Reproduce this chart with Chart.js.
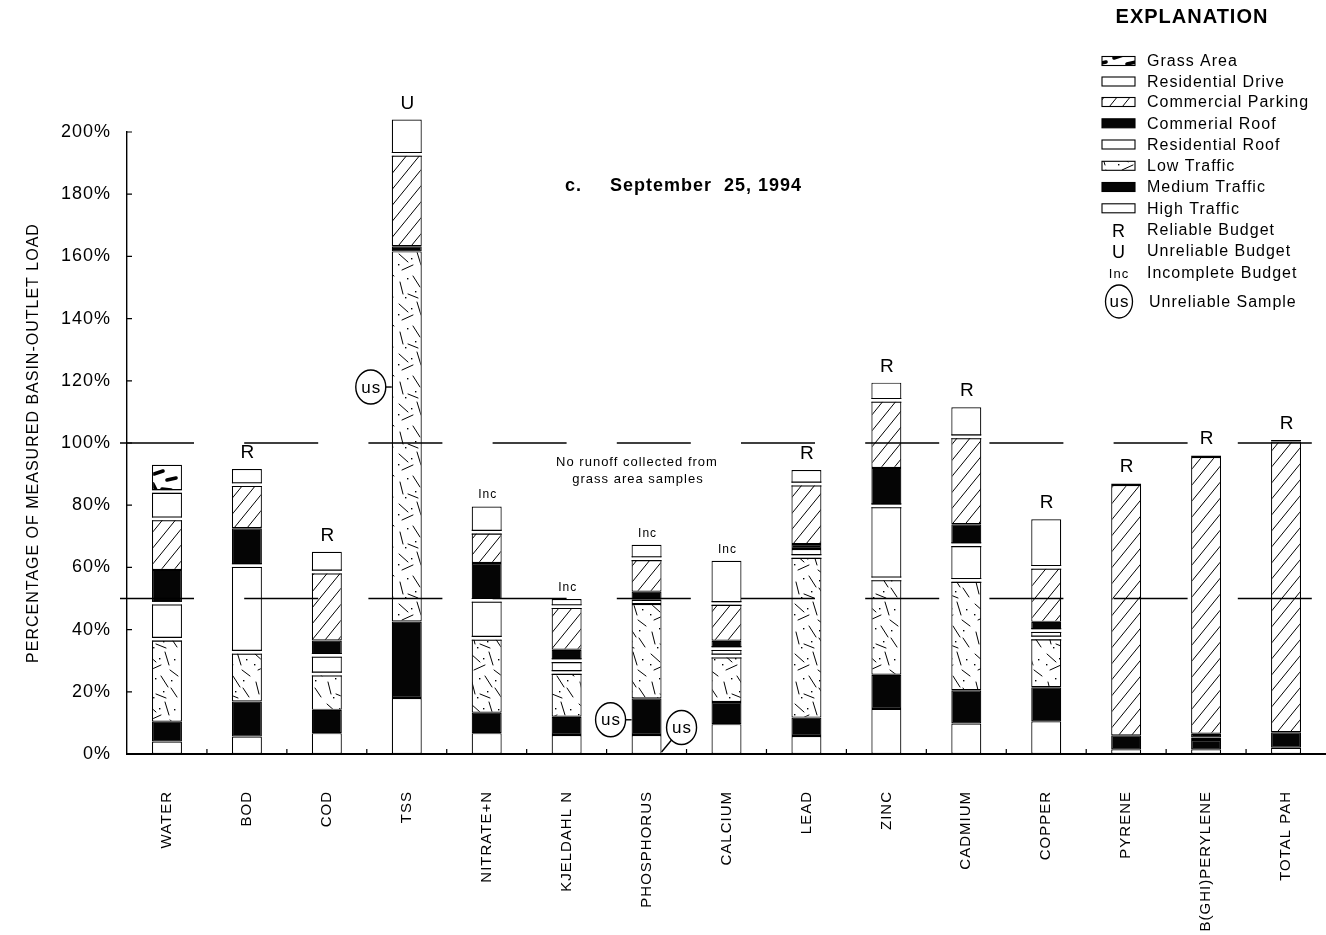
<!DOCTYPE html>
<html>
<head>
<meta charset="utf-8">
<script src="https://cdn.jsdelivr.net/npm/chart.js@4.4.1/dist/chart.umd.min.js"></script>
<style>
  html, body { margin: 0; padding: 0; background: #fff; }
  #wrap { width: 1326px; height: 935px; position: relative; }
</style>
</head>
<body>
<div id="wrap"><canvas id="c" width="1326" height="935"></canvas></div>
<script>
// Constituent categories along the x axis
const categories = ['WATER', 'BOD', 'COD', 'TSS', 'NITRATE+N', 'KJELDAHL N', 'PHOSPHORUS', 'CALCIUM',
  'LEAD', 'ZINC', 'CADMIUM', 'COPPER', 'PYRENE', 'B(GHI)PERYLENE', 'TOTAL PAH'];

// Source-area contributions, percent of measured basin-outlet load (stacked bottom to top)
const highTraffic       = [4.0, 5.6, 6.7, 18.0, 6.7, 6.1, 6.1, 9.6, 5.8, 14.5, 9.8, 10.5, 1.5, 1.5, 2.0];
const mediumTraffic     = [6.4, 11.3, 7.5, 24.6, 6.6, 5.9, 11.8, 7.1, 5.9, 11.0, 10.7, 11.0, 4.5, 3.0, 5.0];
const lowTraffic        = [26.5, 15.8, 11.5, 119.0, 23.9, 14.2, 30.3, 14.8, 51.8, 30.8, 35.3, 15.8, 0, 0, 0];
const residentialRoof   = [11.6, 27.9, 6.0, 0, 12.2, 3.8, 1.4, 2.4, 2.4, 23.5, 11.5, 2.4, 0, 0.8, 0];
const commercialRoof    = [10.7, 12.0, 4.8, 1.7, 12.0, 3.5, 2.6, 2.5, 1.6, 12.2, 6.6, 2.8, 0, 1.2, 0];
const commercialParking = [16.4, 14.0, 22.0, 29.5, 9.9, 13.9, 10.6, 12.0, 19.3, 21.7, 28.1, 17.5, 80.5, 89.0, 93.5];
const residentialDrive  = [8.8, 5.0, 6.5, 11.2, 8.3, 2.4, 4.5, 13.7, 4.5, 5.7, 9.5, 15.5, 0.5, 0.5, 0.5];
const grassArea         = [8.6, 0, 0, 0, 0, 0, 0, 0, 0, 0, 0, 0, 0, 0, 0];

// Budget reliability flag per category
const budgetFlags = ['', 'R', 'R', 'U', 'Inc', 'Inc', 'Inc', 'Inc', 'R', 'R', 'R', 'R', 'R', 'R', 'R'];

// Unreliable samples, marked beside a bar at a given percentage
const unreliableSamples = [
  { category: 'TSS', value: 118, side: 'left' },
  { category: 'PHOSPHORUS', value: 11, side: 'left' },
  { category: 'PHOSPHORUS', value: 8.5, side: 'right' }
];

const yTicks = [0, 20, 40, 60, 80, 100, 120, 140, 160, 180, 200];
const referenceLevels = [50, 100];

const FONT = '"Liberation Sans", Arial, Helvetica, sans-serif';
const canvas = document.getElementById('c');
const mainCtx = canvas.getContext('2d');

// ---- fill patterns for the source areas ----
function makePattern(w, h, paint) {
  const c = document.createElement('canvas');
  c.width = w; c.height = h;
  const g = c.getContext('2d');
  g.fillStyle = '#fff'; g.fillRect(0, 0, w, h);
  g.strokeStyle = '#000'; g.fillStyle = '#000'; g.lineCap = 'round';
  paint(g);
  return mainCtx.createPattern(c, 'repeat');
}
const hatchFill = makePattern(13, 16, g => {
  g.lineWidth = 1;
  g.beginPath();
  [[-13, 16, 0, 0], [0, 16, 13, 0], [13, 16, 26, 0]].forEach(s => { g.moveTo(s[0], s[1]); g.lineTo(s[2], s[3]); });
  g.stroke();
});
const trafficFill = makePattern(36, 50, g => {
  g.lineWidth = 1;
  g.beginPath();
  [[3, 4, 12, 12], [21, 2, 25, 15], [26, 20, 34, 26], [6, 20, 17, 15], [17, 26, 24, 37],
   [4, 32, 7, 44], [12, 44, 22, 48], [27, 38, 33, 47]].forEach(s => { g.moveTo(s[0], s[1]); g.lineTo(s[2], s[3]); });
  g.stroke();
  [[15, 8], [30, 9], [9, 47], [27, 30], [2, 14], [19, 41], [11, 28]].forEach(p => g.fillRect(p[0], p[1], 1.4, 1.4));
});
const grassFill = makePattern(30, 26, g => {
  g.lineWidth = 3.6;
  g.beginPath();
  [[4, 6, 13, 3], [17, 12, 26, 10], [3, 16, 6, 22], [12, 21, 21, 22]].forEach(s => { g.moveTo(s[0], s[1]); g.lineTo(s[2], s[3]); });
  g.stroke();
});
const BLACK = '#050505';

function series(label, data, fill, gapAround) {
  return {
    label, data, backgroundColor: fill, borderColor: '#000', borderWidth: 1.2,
    borderSkipped: false, inflateAmount: 0, clip: false, gapAround: !!gapAround
  };
}

const datasets = [
  series('High Traffic', highTraffic, '#fff'),
  series('Medium Traffic', mediumTraffic, BLACK),
  series('Low Traffic', lowTraffic, trafficFill),
  series('Residential Roof', residentialRoof, '#fff', true),
  series('Commerial Roof', commercialRoof, BLACK),
  series('Commercial Parking', commercialParking, hatchFill),
  series('Residential Drive', residentialDrive, '#fff', true),
  series('Grass Area', grassArea, grassFill)
];

function setFont(ctx, size, bold) {
  ctx.font = (bold ? 'bold ' : '') + size + 'px ' + FONT;
}

// ---- plugin: tracking for all text, separators, reference lines, flags, legend ----
const decorations = {
  id: 'decorations',
  beforeDraw(chart) {
    chart.ctx.letterSpacing = '1px';
  },
  afterDatasetsDraw(chart) {
    const ctx = chart.ctx;
    const xs = chart.scales.x, ys = chart.scales.y;
    ctx.save();
    // white separators around plain white roof/drive segments
    categories.forEach((cat, i) => {
      const segs = [];
      chart.data.datasets.forEach((ds, d) => {
        if (ds.data[i] > 0) segs.push({ el: chart.getDatasetMeta(d).data[i], gap: ds.gapAround });
      });
      for (let k = 0; k < segs.length - 1; k++) {
        const lo = segs[k], up = segs[k + 1];
        if (!(lo.gap || up.gap)) continue;
        const hl = lo.el.base - lo.el.y, hu = up.el.base - up.el.y;
        if (hl < 5 || hu < 5) continue;
        const y = lo.el.y, x0 = lo.el.x - lo.el.width / 2, w = lo.el.width;
        ctx.fillStyle = '#fff';
        ctx.fillRect(x0 - 1, y - 1.4, w + 2, 2.8);
        ctx.strokeStyle = '#000'; ctx.lineWidth = 1.1;
        ctx.beginPath();
        ctx.moveTo(x0, y - 1.9); ctx.lineTo(x0 + w, y - 1.9);
        ctx.moveTo(x0, y + 1.9); ctx.lineTo(x0 + w, y + 1.9);
        ctx.stroke();
      }
    });

    // dashed reference levels
    ctx.strokeStyle = '#000'; ctx.lineWidth = 1.3;
    ctx.setLineDash([74, 50.2]);
    referenceLevels.forEach(v => {
      const y = ys.getPixelForValue(v);
      ctx.beginPath(); ctx.moveTo(120, y); ctx.lineTo(chart.chartArea.right, y); ctx.stroke();
    });
    ctx.setLineDash([]);

    // budget flags above each bar
    ctx.fillStyle = '#000'; ctx.textAlign = 'center'; ctx.textBaseline = 'alphabetic';
    categories.forEach((cat, i) => {
      const flag = budgetFlags[i];
      if (!flag) return;
      const total = chart.data.datasets.reduce((s, ds) => s + ds.data[i], 0);
      const top = ys.getPixelForValue(total);
      const x = xs.getPixelForValue(i);
      if (flag === 'Inc') { setFont(ctx, 12); ctx.fillText(flag, x + 1, top - 8); }
      else { setFont(ctx, 19); ctx.fillText(flag, x + 1, top - 11); }
    });

    // unreliable-sample markers
    unreliableSamples.forEach(m => {
      const i = categories.indexOf(m.category);
      const el = chart.getDatasetMeta(0).data[i];
      const left = el.x - el.width / 2, right = el.x + el.width / 2;
      const cy = ys.getPixelForValue(m.value);
      const cx = m.side === 'left' ? left - 21 : right + 20;
      ctx.strokeStyle = '#000'; ctx.lineWidth = 1.4;
      ctx.beginPath(); ctx.ellipse(cx, cy, 15, 17, 0, 0, Math.PI * 2); ctx.stroke();
      ctx.beginPath();
      if (m.side === 'left') { ctx.moveTo(cx + 15, cy); ctx.lineTo(left, cy); }
      else { ctx.moveTo(cx - 10, cy + 12.5); ctx.lineTo(right, ys.getPixelForValue(0) - 2); }
      ctx.stroke();
      setFont(ctx, 17); ctx.textAlign = 'center'; ctx.textBaseline = 'middle';
      ctx.fillText('us', cx + 0.5, cy + 1);
    });
    ctx.restore();
  },
  afterDraw(chart) {
    const ctx = chart.ctx;
    const area = chart.chartArea;
    const ys = chart.scales.y;
    ctx.save();
    ctx.strokeStyle = '#000'; ctx.lineWidth = 1.2;
    // inward tick marks
    ctx.beginPath();
    yTicks.forEach(v => {
      if (v === 0) return;
      const y = ys.getPixelForValue(v);
      ctx.moveTo(area.left, y); ctx.lineTo(area.left + 5, y);
    });
    const cw = (area.right - area.left) / categories.length;
    for (let k = 1; k < categories.length; k++) {
      const x = area.left + k * cw;
      ctx.moveTo(x, area.bottom); ctx.lineTo(x, area.bottom - 5);
    }
    ctx.stroke();

    ctx.fillStyle = '#000';
    // date heading
    setFont(ctx, 18, true); ctx.textAlign = 'left'; ctx.textBaseline = 'middle';
    ctx.fillText('c.', 565, 186);
    ctx.fillText('September  25, 1994', 610, 186);

    // note about the grass area
    setFont(ctx, 13); ctx.textAlign = 'center';
    ctx.fillText('No runoff collected from', 637, 462);
    ctx.fillText('grass area samples', 638, 479);

    // explanation block
    setFont(ctx, 20, true); ctx.textAlign = 'center';
    ctx.fillText('EXPLANATION', 1192, 17);
    const rowY = [61, 81.5, 102, 123.3, 144.5, 165.8, 187, 208.3];
    const items = chart.data.datasets.slice().reverse();
    items.forEach((ds, r) => {
      const y = rowY[r];
      ctx.fillStyle = ds.backgroundColor;
      ctx.fillRect(1102, y - 4.5, 33, 9);
      ctx.strokeStyle = '#000'; ctx.lineWidth = 1.1;
      ctx.strokeRect(1102, y - 4.5, 33, 9);
      ctx.fillStyle = '#000';
      setFont(ctx, 16); ctx.textAlign = 'left'; ctx.textBaseline = 'middle';
      ctx.fillText(ds.label, 1147, y + 1);
    });
    const symbols = [['R', 'Reliable Budget', 230], ['U', 'Unreliable Budget', 251], ['Inc', 'Incomplete Budget', 272.5]];
    symbols.forEach(s => {
      ctx.textAlign = 'center';
      if (s[0] === 'Inc') setFont(ctx, 13); else setFont(ctx, 18);
      ctx.fillText(s[0], 1119, s[2] + 2);
      setFont(ctx, 16); ctx.textAlign = 'left';
      ctx.fillText(s[1], 1147, s[2] + 1);
    });
    ctx.lineWidth = 1.3;
    ctx.beginPath(); ctx.ellipse(1119, 301.5, 13.5, 16.5, 0, 0, Math.PI * 2); ctx.stroke();
    setFont(ctx, 17); ctx.textAlign = 'center';
    ctx.fillText('us', 1119.5, 302.5);
    setFont(ctx, 16); ctx.textAlign = 'left';
    ctx.fillText('Unreliable Sample', 1149, 303);
    ctx.restore();
  }
};

new Chart(canvas, {
  type: 'bar',
  data: { labels: categories, datasets },
  options: {
    responsive: false,
    animation: false,
    devicePixelRatio: 1,
    layout: { padding: { top: 132, right: 0, bottom: 0, left: 0 } },
    datasets: { bar: { barPercentage: 0.375, categoryPercentage: 1 } },
    plugins: { legend: { display: false }, tooltip: { enabled: false } },
    scales: {
      x: {
        stacked: true,
        grid: { display: false, drawTicks: false },
        border: { display: true, color: '#000', width: 2 },
        ticks: {
          autoSkip: false, maxRotation: 90, minRotation: 90, padding: 37,
          color: '#000', font: { family: FONT, size: 15 }
        },
        afterFit(scale) {
          scale.height = 181;
          scale.paddingLeft = 0;
          scale.paddingRight = 0;
        }
      },
      y: {
        stacked: true,
        min: 0, max: 200,
        grid: { display: false, drawTicks: false },
        border: { display: true, color: '#000', width: 1.4 },
        afterBuildTicks(scale) { scale.ticks = yTicks.map(v => ({ value: v })); },
        ticks: {
          padding: 16, color: '#000', font: { family: FONT, size: 18 },
          callback: v => v + '%'
        },
        title: {
          display: true, text: 'PERCENTAGE OF MEASURED BASIN-OUTLET LOAD',
          color: '#000', font: { family: FONT, size: 16 }, padding: { top: 24, bottom: 0 }
        },
        afterFit(scale) {
          scale.width = 127;
          scale.paddingTop = 0;
          scale.paddingBottom = 0;
        }
      }
    }
  },
  plugins: [decorations]
});
</script>
</body>
</html>
